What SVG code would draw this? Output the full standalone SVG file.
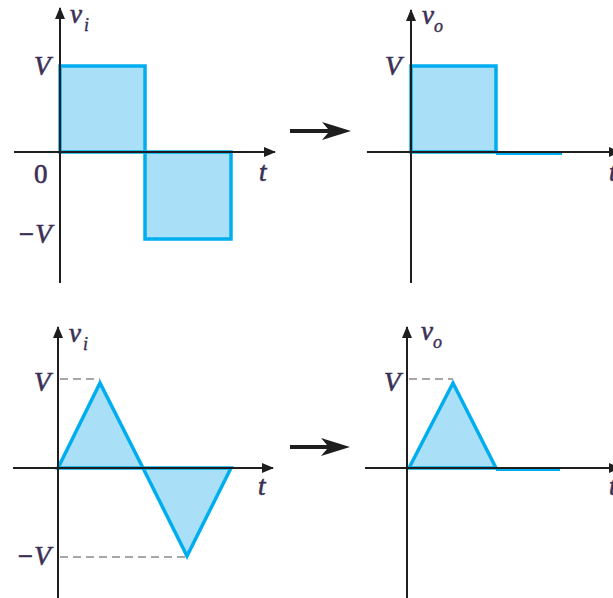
<svg xmlns="http://www.w3.org/2000/svg" width="613" height="598" viewBox="0 0 613 598">
<defs>
<style>
.ax{stroke:#1e1e1e;stroke-width:2;fill:none}
.wave{stroke:#00aeef;stroke-width:3.5;fill:#aadff8;stroke-linejoin:miter}
.flat{stroke:#00aeef;stroke-width:3;fill:none}
.dash{stroke:#8a8a8a;stroke-width:1.6;stroke-dasharray:8 5;fill:none}
.lb{font-family:"Liberation Serif",serif;font-style:italic;font-size:27px;fill:#3a2f55;stroke:#3a2f55;stroke-width:0.6}
.num{font-family:"Liberation Serif",serif;font-size:27px;fill:#3a2f55;stroke:#3a2f55;stroke-width:0.6}
.sub{font-family:"Liberation Serif",serif;font-style:italic;font-size:18px;fill:#3a2f55;stroke:#3a2f55;stroke-width:0.4}
.ah{fill:#1e1e1e}
</style>
<marker id="arr" viewBox="0 0 12 10" refX="11" refY="5" markerWidth="12" markerHeight="10" markerUnits="userSpaceOnUse" orient="auto">
<path d="M0,0 L12,5 L0,10 Z" class="ah"/>
</marker>
</defs>

<g id="plot-top-left">
<rect class="wave" x="60" y="66" width="85" height="86"/>
<rect class="wave" x="145" y="152" width="86" height="87"/>
<line class="ax" x1="60" y1="283" x2="60" y2="8" marker-end="url(#arr)"/>
<line class="ax" x1="14" y1="152" x2="275" y2="152" marker-end="url(#arr)"/>
<text class="lb" x="70" y="23">v</text><text class="sub" x="84" y="31">i</text>
<text class="lb" x="34" y="75">V</text>
<text class="num" x="34" y="183">0</text>
<text class="lb" x="17" y="243">−V</text>
<text class="lb" x="259" y="181">t</text>
</g>

<g id="plot-top-right">
<path class="wave" d="M411,152 L411,66 L496,66 L496,152 Z"/>
<line class="flat" x1="496" y1="153.5" x2="562" y2="153.5"/>
<line class="ax" x1="411" y1="283" x2="411" y2="10" marker-end="url(#arr)"/>
<line class="ax" x1="367" y1="152" x2="620" y2="152" marker-end="url(#arr)"/>
<text class="lb" x="422" y="24">v</text><text class="sub" x="434" y="32">o</text>
<text class="lb" x="385" y="75">V</text>
<text class="lb" x="609" y="181">t</text>
</g>

<g id="plot-bottom-left">
<path class="wave" d="M58,468 L100,383 L143,468 L187,556 L231,468 Z"/>
<line class="dash" x1="60" y1="379" x2="100" y2="379"/>
<line class="dash" x1="60" y1="557" x2="187" y2="557"/>
<line class="ax" x1="58" y1="600" x2="58" y2="327" marker-end="url(#arr)"/>
<line class="ax" x1="13" y1="468" x2="273" y2="468" marker-end="url(#arr)"/>
<text class="lb" x="69" y="342">v</text><text class="sub" x="83" y="350">i</text>
<text class="lb" x="34" y="391">V</text>
<text class="lb" x="16" y="565">−V</text>
<text class="lb" x="258" y="495">t</text>
</g>

<g id="plot-bottom-right">
<path class="wave" d="M409,468 L453,383 L496,468 Z"/>
<line class="flat" x1="496" y1="469.5" x2="560" y2="469.5"/>
<line class="dash" x1="409" y1="379" x2="453" y2="379"/>
<line class="ax" x1="407" y1="600" x2="407" y2="327" marker-end="url(#arr)"/>
<line class="ax" x1="365" y1="468" x2="620" y2="468" marker-end="url(#arr)"/>
<text class="lb" x="421" y="340">v</text><text class="sub" x="433" y="348">o</text>
<text class="lb" x="384" y="391">V</text>
<text class="lb" x="609" y="495">t</text>
</g>

<g id="connectors">
<path d="M290,129 L328,129 L322,122 L351,131 L322,140 L328,133 L290,133 Z" fill="#1e1e1e"/>
<path d="M290,445 L327,445 L321,438 L350,447 L321,456 L327,449 L290,449 Z" fill="#1e1e1e"/>
</g>
</svg>
